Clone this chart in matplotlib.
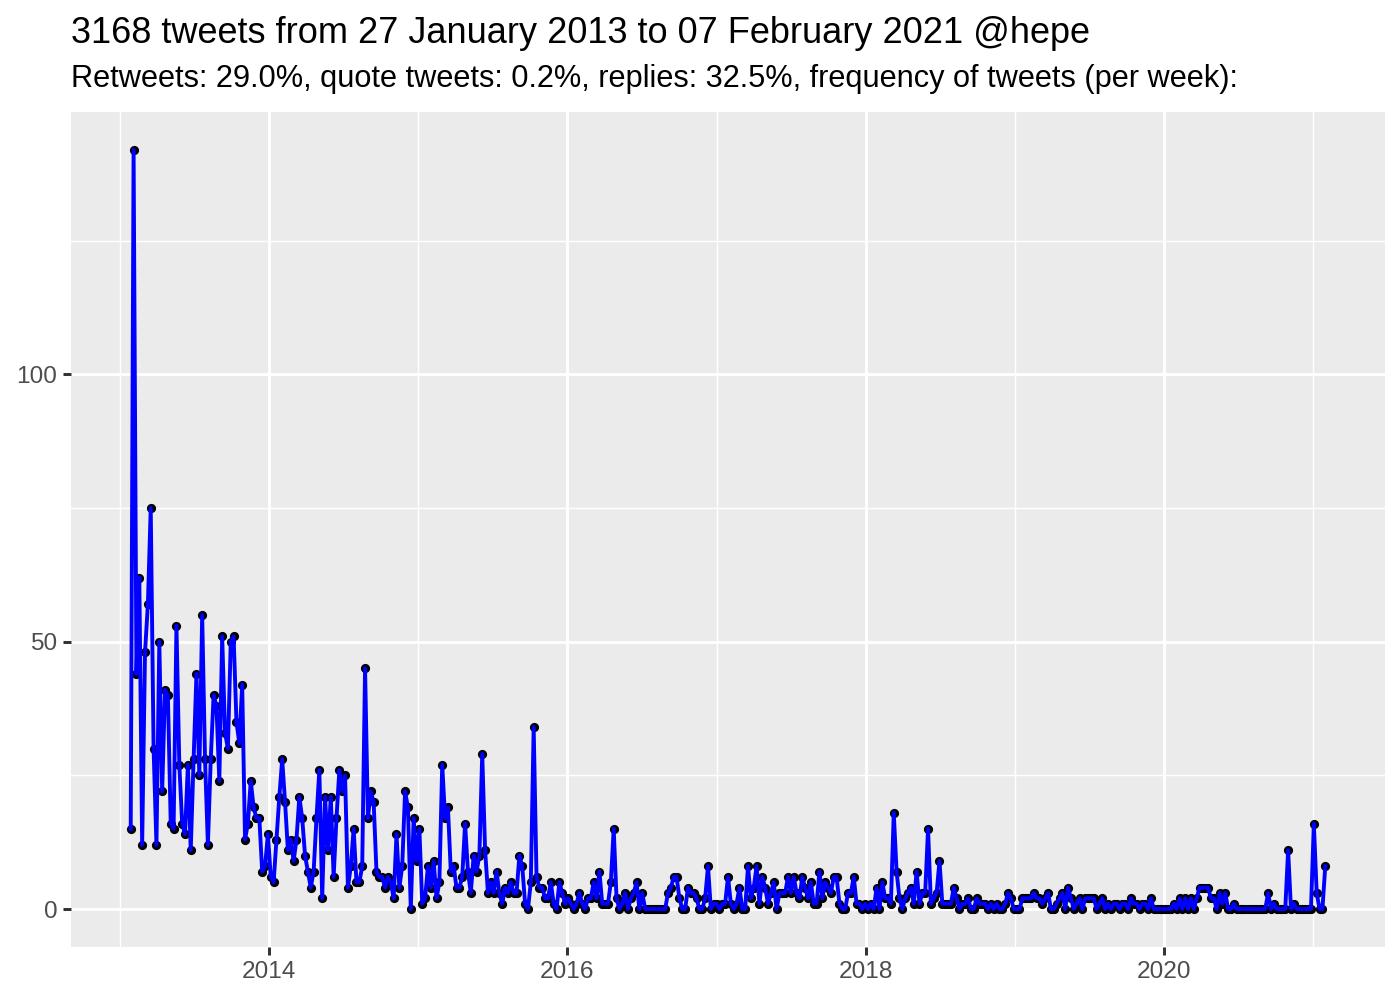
import numpy as np
import pandas as pd
import matplotlib
matplotlib.use("Agg")
import matplotlib.pyplot as plt
import matplotlib.dates as mdates
from matplotlib.ticker import FixedLocator

plt.rcParams['font.family'] = ['Liberation Sans', 'DejaVu Sans']

# weekly tweet counts (weeks starting Sunday)
start_week = "2013-01-27"
counts_2013 = [15, 142, 44, 62, 12, 48, 57, 75, 30, 12, 50, 22, 41, 40, 16, 15, 53,
               27, 16, 14, 27, 11, 28, 44, 25, 55, 28, 12, 28, 40, 38, 24, 51, 33,
               30, 50, 51, 35, 31, 42, 13, 16, 24, 19, 17, 17, 7, 8, 14]
counts_2014 = [6, 5, 13, 21, 28, 20, 11, 13, 9, 13, 21, 17, 10, 7, 4, 7, 17, 26, 2,
               21, 11, 21, 6, 17, 26, 22, 25, 4, 8, 15, 5, 5, 8, 45, 17, 22, 20, 7,
               6, 6, 4, 6, 5, 2, 14, 4, 8, 22, 19, 0, 17, 9]
counts_2015 = [15, 1, 2, 8, 4, 9, 2, 5, 27, 17, 19, 7, 8, 4, 4, 6, 16, 7, 3, 10, 7,
               10, 29, 11, 3, 5, 3, 7, 3, 1, 4, 3, 5, 3, 3, 10, 8, 1, 0, 5, 34, 6,
               4, 4, 2, 2, 5, 1, 0, 5, 3, 1]
counts_2016 = [2, 1, 0, 1, 3, 1, 0, 2, 2, 5, 2, 7, 1, 1, 1, 5, 15, 2, 0, 1, 3, 0, 2,
               3, 5, 0, 3, 0, 0, 0, 0, 0, 0, 0, 0, 3, 4, 6, 6, 2, 0, 0, 4, 3, 3, 2,
               0, 0, 2, 8, 0, 1]
counts_2017 = [1, 0, 1, 1, 6, 1, 0, 1, 4, 0, 0, 8, 2, 4, 8, 1, 6, 4, 1, 3, 5, 0, 3,
               3, 3, 6, 3, 6, 3, 2, 6, 4, 2, 5, 1, 1, 7, 2, 5, 4, 3, 6, 6, 1, 0, 0,
               3, 3, 6, 1, 1, 0, 1]
counts_2018 = [0, 1, 0, 4, 0, 5, 2, 2, 1, 18, 7, 2, 0, 2, 3, 4, 1, 7, 1, 3, 3, 15,
               1, 2, 3, 9, 1, 1, 1, 1, 4, 2, 0, 1, 1, 2, 0, 0, 2, 1, 1, 1, 0, 1, 0,
               1, 0, 0, 1, 3, 2, 0]
counts_2019 = [0, 0, 2, 2, 2, 2, 3, 2, 2, 1, 2, 3, 0, 0, 1, 2, 3, 0, 4, 2, 0, 1, 2,
               0, 2, 2, 2, 2, 0, 1, 2, 0, 1, 0, 1, 1, 0, 1, 1, 0, 2, 1, 1, 0, 1, 1,
               0, 2, 0, 0, 0, 0]
counts_2020 = [0, 0, 0, 1, 0, 2, 0, 2, 0, 2, 0, 2, 4, 4, 4, 4, 2, 2, 0, 3, 1, 3, 0,
               0, 1, 0, 0, 0, 0, 0, 0, 0, 0, 0, 0, 0, 3, 0, 1, 0, 0, 0, 0, 11, 0, 1,
               0, 0, 0, 0, 0, 0]
counts_2021 = [16, 3, 0, 0, 8]

title = "3168 tweets from 27 January 2013 to 07 February 2021 @hepe"
subtitle = ("Retweets: 29.0%, quote tweets: 0.2%, replies: 32.5%, "
            "frequency of tweets (per week):")

counts = np.array(counts_2013 + counts_2014 + counts_2015 + counts_2016 +
                  counts_2017 + counts_2018 + counts_2019 + counts_2020 +
                  counts_2021)
weeks = pd.date_range(start=start_week, periods=len(counts), freq="7D")

# ============================================================
# Figure (ggplot2 theme_grey look)
# ============================================================
fig = plt.figure(figsize=(7, 5), dpi=200)
ax = fig.add_axes([71 / 1400, 53 / 1000, 1314 / 1400, 835 / 1000])
ax.set_facecolor("#EBEBEB")
for s in ax.spines.values():
    s.set_visible(False)

x = mdates.date2num(weeks.to_pydatetime())
ax.plot(x, counts, "o", color="black", markersize=2.3, zorder=3)
ax.plot(x, counts, color="#0000FF", linewidth=1.4, zorder=4)

# 5% expansion like ggplot
xr = x[-1] - x[0]
ax.set_xlim(x[0] - 0.05 * xr, x[-1] + 0.05 * xr)
ymax = counts.max()
ax.set_ylim(-0.05 * ymax, ymax * 1.05)

major_years = [2014, 2016, 2018, 2020]
minor_years = [2013, 2015, 2017, 2019, 2021]
ax.xaxis.set_major_locator(FixedLocator(
    [mdates.date2num(pd.Timestamp(f"{y}-01-01")) for y in major_years]))
ax.xaxis.set_minor_locator(FixedLocator(
    [mdates.date2num(pd.Timestamp(f"{y}-01-01")) for y in minor_years]))
ax.set_xticklabels([str(y) for y in major_years])
ax.yaxis.set_major_locator(FixedLocator([0, 50, 100]))
ax.yaxis.set_minor_locator(FixedLocator([25, 75, 125]))
ax.set_yticklabels(["0", "50", "100"])

ax.grid(which="major", color="white", linewidth=1.07)
ax.grid(which="minor", color="white", linewidth=0.53)
ax.set_axisbelow(True)
ax.tick_params(which="major", direction="out", length=2.75, width=1.07,
               color="#333333", labelcolor="#4D4D4D", labelsize=8.8, pad=2.2)
ax.tick_params(which="minor", length=0)

fig.text(71 / 1400, 1 - 43 / 1000, title, fontsize=13.0, va="baseline", ha="left")
fig.text(71 / 1400, 1 - 87 / 1000, subtitle, fontsize=11.08, va="baseline", ha="left")

fig.savefig("out.png", dpi=200)
